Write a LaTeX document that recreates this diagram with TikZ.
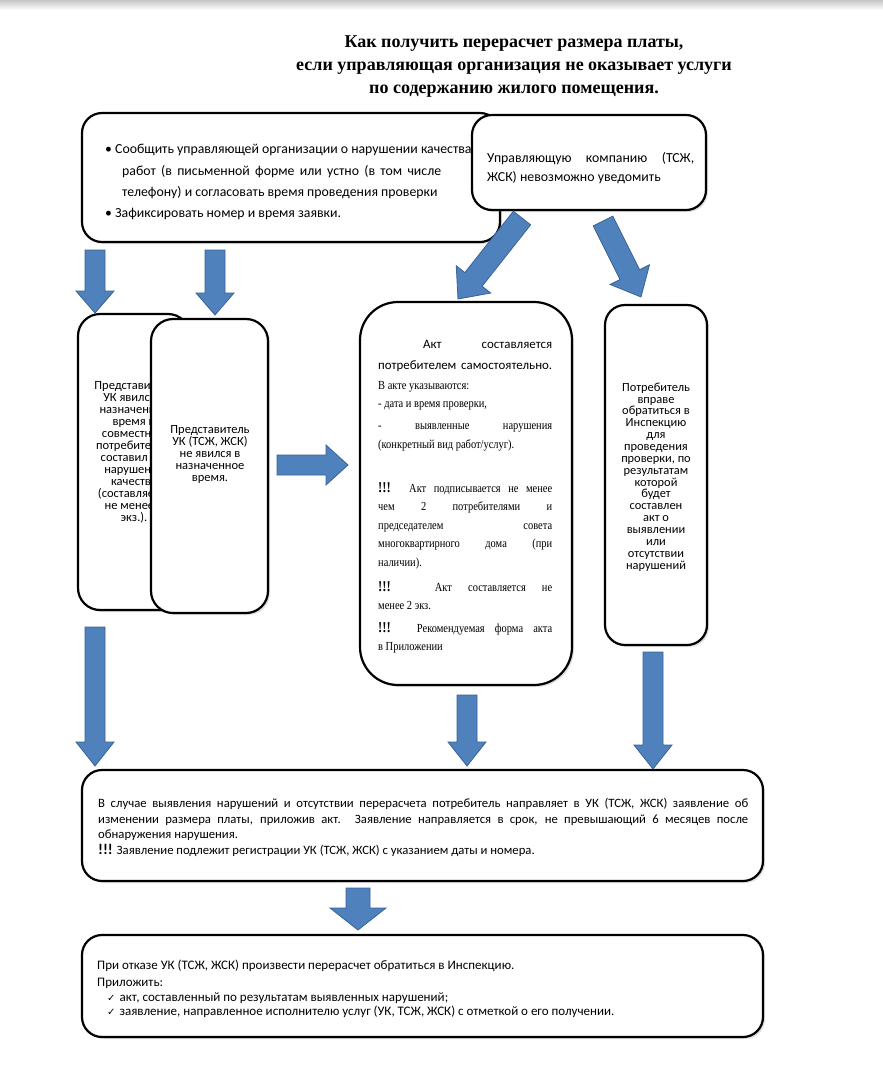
\documentclass[tikz,border=0pt]{standalone}
\usepackage{fontspec}
\setmainfont{Carlito}
\newfontfamily\titlefont{Liberation Serif}
\newfontfamily\condserif[FakeStretch=0.85]{Liberation Serif}
\newfontfamily\symfont{DejaVu Sans}
\usetikzlibrary{calc,shadows}
\definecolor{arrowblue}{HTML}{4F81BD}
\definecolor{arrowedge}{HTML}{3A6496}
\newcommand{\blockarrow}[5]{%
  \coordinate (ba-b) at ($(#2)!#5!(#1)$);
  \filldraw[barrow] ($(#1)!#3!90:(#2)$) -- ($(ba-b)!#3!90:(#2)$) -- ($(ba-b)!#4!90:(#2)$) -- (#2) -- ($(ba-b)!#4!-90:(#2)$) -- ($(ba-b)!#3!-90:(#2)$) -- ($(#1)!#3!-90:(#2)$) -- cycle;}
\begin{document}
\begin{tikzpicture}[x=1pt,y=-1pt,
  box/.style={draw=black,line width=2.2pt,fill=white,rounded corners=20pt,
    drop shadow={opacity=0.25,shadow xshift=2pt,shadow yshift=-2pt},inner sep=0pt},
  barrow/.style={fill=arrowblue,draw=arrowedge,line width=0.8pt,line join=miter},
  txt/.style={anchor=base west,inner sep=0pt,font=\fontsize{13.8}{16}\selectfont},
  smalltxt/.style={anchor=base west,inner sep=0pt,font=\fontsize{12.7}{14}\selectfont},
  sanstxt/.style={anchor=base west,inner sep=0pt,font=\fontsize{12.9}{16}\selectfont},
  sertxt/.style={anchor=base west,inner sep=0pt,font=\condserif\fontsize{12.3}{14}\selectfont},
  coltxt/.style={anchor=north,inner sep=0pt,align=center,font=\fontsize{12.5}{12}\selectfont},
  titletxt/.style={anchor=base,inner sep=0pt,font=\titlefont\bfseries\fontsize{18}{20}\selectfont}]
\useasboundingbox (0,0) rectangle (883,1080);
\fill[white] (0,0) rectangle (883,1080);
\shade[top color=gray!45,bottom color=white] (0,0) rectangle (883,10);

% title
\node[titletxt] (t1) at (514,47) {Как получить перерасчет размера платы,};
\node[titletxt] (t2) at (514,70) {если управляющая организация не оказывает услуги};
\node[titletxt] (t3) at (514,93) {по содержанию жилого помещения.};

% box A
\node[box,minimum width=418pt,minimum height=129pt] (A) at (291,177.5) {};
\node[txt] (a1) at (105,153) {• Сообщить управляющей организации о нарушении качества};
\node[txt] (a2) at (122,175) {\makebox[319pt][s]{работ (в письменной форме или устно (в том числе}};
\node[txt] (a3) at (122,196) {телефону) и согласовать время проведения проверки};
\node[txt] (a4) at (105,217) {• Зафиксировать номер и время заявки.};

% box B
\node[box,minimum width=234pt,minimum height=95pt] (B) at (589,162.5) {};
\node[txt] (b1) at (487,162) {\makebox[207pt][s]{Управляющую компанию (ТСЖ,}};
\node[txt] (b2) at (487,181) {ЖСК) невозможно уведомить};

% left boxes
\node[box,rounded corners=22pt,minimum width=112pt,minimum height=296pt] (C1) at (134,462) {};
\node[coltxt] (c1t) at (134,381) {Представитель\\УК явился в\\назначенное\\время и\\совместно с\\потребителем\\составил акт\\нарушения\\качества\\(составляется\\не менее 2\\экз.).};
\node[box,rounded corners=22pt,minimum width=117pt,minimum height=294pt] (C2) at (209.5,466) {};
\node[coltxt] (c2t) at (210,425) {Представитель\\УК (ТСЖ, ЖСК)\\не явился в\\назначенное\\время.};

% middle box
\node[box,rounded corners=38pt,minimum width=212pt,minimum height=383pt] (D) at (466,493.5) {};
\node[sanstxt] (d1) at (423,348) {\makebox[129pt][s]{Акт составляется}};
\node[sanstxt] (d2) at (378,369) {\makebox[174pt][s]{потребителем самостоятельно.}};
\node[sertxt] (d3) at (378,389) {В акте указываются:};
\node[sertxt] (d4) at (378,407) {- дата и время проверки,};
\node[sertxt] (d5) at (378,429) {\makebox[174pt][s]{- выявленные нарушения}};
\node[sertxt] (d6) at (378,448) {(конкретный вид работ/услуг).};
\node[sertxt] (d7) at (378,492) {\makebox[174pt][s]{{\bfseries\fontsize{15}{15}\selectfont !!!} Акт подписывается не менее}};
\node[sertxt] (d8) at (378,510) {\makebox[174pt][s]{чем 2 потребителями и}};
\node[sertxt] (d9) at (378,529) {\makebox[174pt][s]{председателем совета}};
\node[sertxt] (d10) at (378,547) {\makebox[174pt][s]{многоквартирного дома (при}};
\node[sertxt] (d11) at (378,566) {наличии).};
\node[sertxt] (d12) at (378,591) {\makebox[174pt][s]{{\bfseries\fontsize{15}{15}\selectfont !!!} Акт составляется не}};
\node[sertxt] (d13) at (378,609) {менее 2 экз.};
\node[sertxt] (d14) at (378,632) {\makebox[174pt][s]{{\bfseries\fontsize{15}{15}\selectfont !!!} Рекомендуемая форма акта}};
\node[sertxt] (d15) at (378,650) {в Приложении};

% right box
\node[box,minimum width=102pt,minimum height=340pt] (E) at (656,475) {};
\node[coltxt,font=\fontsize{12.4}{11.87}\selectfont] (et) at (656,382.5) {Потребитель\\вправе\\обратиться в\\Инспекцию\\для\\проведения\\проверки, по\\результатам\\которой\\будет\\составлен\\акт о\\выявлении\\или\\отсутствии\\нарушений};

% box F
\node[box,minimum width=681pt,minimum height=111pt] (F) at (422.5,825.5) {};
\node[smalltxt] (f1) at (98,807) {\makebox[650pt][s]{В случае выявления нарушений и отсутствии перерасчета потребитель направляет в УК (ТСЖ, ЖСК) заявление об}};
\node[smalltxt] (f2) at (98,823) {\makebox[650pt][s]{изменении размера платы, приложив акт. Заявление направляется в срок, не превышающий 6 месяцев после}};
\node[smalltxt] (f3) at (98,838) {обнаружения нарушения.};
\node[smalltxt] (f4) at (98,854) {{\bfseries\fontsize{15}{15}\selectfont !!!} Заявление подлежит регистрации УК (ТСЖ, ЖСК) с указанием даты и номера.};

% box G
\node[box,minimum width=681pt,minimum height=102pt] (G) at (422.5,986) {};
\node[smalltxt,font=\fontsize{13}{14}\selectfont] (g1) at (97,969) {При отказе УК (ТСЖ, ЖСК) произвести перерасчет обратиться в Инспекцию.};
\node[smalltxt,font=\fontsize{13}{14}\selectfont] (g2) at (97,986) {Приложить:};
\node[smalltxt,font=\fontsize{13}{14}\selectfont] (g3) at (107,1001) {{\symfont\fontsize{10}{12}\selectfont ✓}\hspace{4pt}акт, составленный по результатам выявленных нарушений;};
\node[smalltxt,font=\fontsize{13}{14}\selectfont] (g4) at (107,1015) {{\symfont\fontsize{10}{12}\selectfont ✓}\hspace{4pt}заявление, направленное исполнителю услуг (УК, ТСЖ, ЖСК) с отметкой о его получении.};

% arrows
\coordinate (a1s) at (95,250); \coordinate (a1e) at (95,313);
\coordinate (a2s) at (215,250); \coordinate (a2e) at (215,315);
\coordinate (a3s) at (522,218); \coordinate (a3e) at (458,299);
\coordinate (a4s) at (603,221); \coordinate (a4e) at (641,297);
\coordinate (a5s) at (277,465); \coordinate (a5e) at (348,465);
\coordinate (a6s) at (95,627); \coordinate (a6e) at (95,766);
\coordinate (a7s) at (467,695); \coordinate (a7e) at (467,766);
\coordinate (a8s) at (653,652); \coordinate (a8e) at (653,769);
\coordinate (a9s) at (358,888); \coordinate (a9e) at (358,930);
\blockarrow{a1s}{a1e}{10pt}{19pt}{22pt}
\blockarrow{a2s}{a2e}{10pt}{19pt}{22pt}
\blockarrow{a3s}{a3e}{11pt}{22pt}{25pt}
\blockarrow{a4s}{a4e}{11pt}{22pt}{25pt}
\blockarrow{a5s}{a5e}{10pt}{20pt}{22pt}
\blockarrow{a6s}{a6e}{10pt}{19pt}{24pt}
\blockarrow{a7s}{a7e}{10pt}{19pt}{24pt}
\blockarrow{a8s}{a8e}{10pt}{19pt}{24pt}
\blockarrow{a9s}{a9e}{12pt}{28pt}{22pt}
\end{tikzpicture}
\end{document}
